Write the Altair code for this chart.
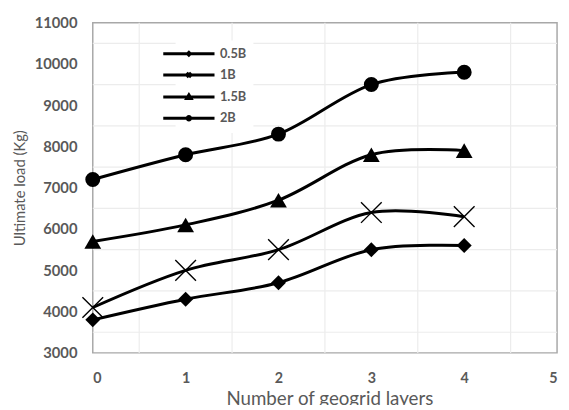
import altair as alt
import pandas as pd

# ---- data ----
layers_x = [0, 1, 2, 3, 4]
series_names = ["0.5B", "1B", "1.5B", "2B"]
load_05B = [3800, 4300, 4700, 5500, 5600]
load_1B = [4100, 5000, 5500, 6400, 6300]
load_15B = [5700, 6100, 6700, 7800, 7900]
load_2B = [7200, 7800, 8300, 9500, 9800]
x_ticks = [0, 1, 2, 3, 4, 5]
y_ticks = [3000, 4000, 5000, 6000, 7000, 8000, 9000, 10000, 11000]
x_grid = [0.5, 1.5, 2.5, 3.5, 4.5]
y_grid = [3500, 4500, 5500, 6500, 7500, 8500, 9500, 10500]

series_values = [load_05B, load_1B, load_15B, load_2B]
rows = []
for name, vals in zip(series_names, series_values):
    for x, v in zip(layers_x, vals):
        rows.append({"series": name, "layers": x, "load": v})
df = pd.DataFrame(rows)

FONT = "Lato"
GRAY = "#595959"

xs = alt.Scale(domain=[0, 5], nice=False)
ys = alt.Scale(domain=[3000, 11000], nice=False)

x_axis = alt.Axis(values=x_ticks, grid=False, ticks=False, domain=False,
                  labelFont=FONT, labelFontSize=14.5, labelFontWeight="bold",
                  labelColor=GRAY, labelPadding=19, labelOverlap=False,
                  title="Number of geogrid layers", titleFont=FONT,
                  titleFontSize=19, titleFontWeight="normal", titleColor=GRAY,
                  titlePadding=5, titleX=240)
y_axis = alt.Axis(values=y_ticks, grid=False, ticks=False, domain=False, format="d",
                  labelFont=FONT, labelFontSize=15, labelFontWeight="bold",
                  labelColor=GRAY, labelPadding=16, labelOverlap=False,
                  title="Ultimate load (Kg)", titleFont=FONT,
                  titleFontSize=15, titleFontWeight="normal", titleColor=GRAY,
                  titlePadding=7)

base = alt.Chart(df)

vgrid = alt.Chart(pd.DataFrame({"g": x_grid})).mark_rule(
    color="#ececec", strokeWidth=1.2).encode(
    x=alt.X("g:Q", scale=xs, axis=x_axis))
hgrid = alt.Chart(pd.DataFrame({"g": y_grid})).mark_rule(
    color="#ececec", strokeWidth=1.2).encode(
    y=alt.Y("g:Q", scale=ys, axis=y_axis))

lines = base.mark_line(color="black", strokeWidth=3, interpolate="cardinal").encode(
    x=alt.X("layers:Q", scale=xs, axis=x_axis),
    y=alt.Y("load:Q", scale=ys, axis=y_axis),
    detail="series:N",
)

marker_style = {
    "0.5B": dict(shape="diamond", size=230, filled=True),
    "1B": dict(shape="M-1,-1L1,1M-1,1L1,-1", size=440, filled=False),
    "1.5B": dict(shape="triangle-up", size=290, filled=True),
    "2B": dict(shape="circle", size=230, filled=True),
}

point_layers = []
for name in series_names:
    st = marker_style[name]
    if st["filled"]:
        mk = dict(filled=True, color="black", opacity=1,
                  shape=st["shape"], size=st["size"], strokeWidth=0)
    else:
        mk = dict(filled=False, color="black", opacity=1,
                  shape=st["shape"], size=st["size"], strokeWidth=1.4)
    point_layers.append(
        base.transform_filter(alt.datum.series == name).mark_point(**mk).encode(
            x=alt.X("layers:Q", scale=xs, axis=x_axis),
            y=alt.Y("load:Q", scale=ys, axis=y_axis),
        )
    )

legend_paths = [
    "M-5.2,0L5.2,0M-0.3,0L0,-0.3L0.3,0L0,0.3Z",
    "M-5.2,0L5.2,0M-0.45,-0.45L0.45,0.45M-0.45,0.45L0.45,-0.45",
    "M-5.2,0L5.2,0M0,-0.45L0.45,0.3L-0.45,0.3Z",
    "M-5.2,0L5.2,0M0.35,0A0.35,0.35 0 1,1 -0.35,0A0.35,0.35 0 1,1 0.35,0Z",
]

LP = 7
legend_layer = base.transform_filter("false").mark_point(
    filled=False, color="black", opacity=1, strokeWidth=3).encode(
    x=alt.X("layers:Q", scale=xs, axis=x_axis),
    y=alt.Y("load:Q", scale=ys, axis=y_axis),
    shape=alt.Shape("series:N", scale=alt.Scale(domain=series_names, range=legend_paths),
                    legend=alt.Legend(orient="none", legendX=91 - LP, legendY=25 - LP, title=None,
                                      symbolSize=100, symbolStrokeWidth=3,
                                      symbolStrokeColor="black", symbolFillColor="black",
                                      symbolOpacity=1,
                                      labelFont=FONT, labelFontSize=13, labelFontWeight="bold",
                                      labelColor=GRAY, labelOffset=25, rowPadding=5.5,
                                      padding=LP, fillColor="white")),
)

chart = alt.layer(vgrid, hgrid, lines, *point_layers, legend_layer).properties(
    width=471, height=335,
    padding={"left": 86, "top": 12, "right": 4, "bottom": 50},
    autosize="none",
).configure_view(stroke="#a8a8a8", strokeWidth=1.5)

chart.save("out.html", embed_options={"renderer": "svg", "actions": False})
